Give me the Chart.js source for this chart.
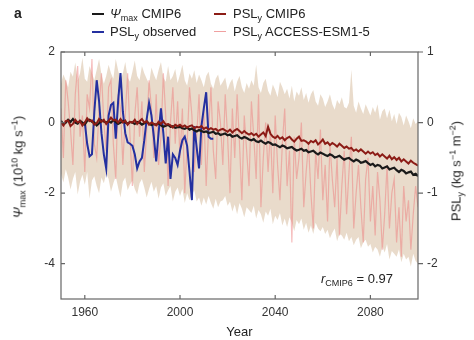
<!DOCTYPE html>
<html>
<head>
<meta charset="utf-8">
<script src="https://cdn.jsdelivr.net/npm/chart.js@4.4.1/dist/chart.umd.min.js"></script>
<style>
  body { margin: 0; background: #fff; }
  #wrap { position: relative; width: 474px; height: 340px; font-family: "Liberation Sans", Arial, sans-serif; color: #222; }
  canvas { position: absolute; left: 0; top: 0; }
  .lbl { position: absolute; font-size: 13px; line-height: 16px; white-space: nowrap; }
  .lbl sub { font-size: 9px; vertical-align: -3px; line-height: 0; }
  .lbl sup { font-size: 9px; vertical-align: 5px; line-height: 0; }
  .swatch { position: absolute; width: 12px; }
  .ytitle { position: absolute; font-size: 13px; white-space: nowrap; transform: translate(-50%, -50%) rotate(-90deg); }
  .ytitle sub { font-size: 9px; vertical-align: -3px; line-height: 0; }
  .ytitle sup { font-size: 9px; vertical-align: 5px; line-height: 0; }
</style>
</head>
<body>
<div id="wrap">
  <canvas id="chart" width="474" height="340"></canvas>

  <div class="lbl" style="left:14px;top:5px;font-weight:bold;font-size:14px;">a</div>

  <!-- legend -->
  <div class="swatch" style="left:92px;top:13px;height:2px;background:#1a1a1a;"></div>
  <div class="lbl" style="left:110px;top:6px;"><i>Ψ</i><sub>max</sub> CMIP6</div>
  <div class="swatch" style="left:214px;top:13px;height:2px;background:#8c1c16;"></div>
  <div class="lbl" style="left:233px;top:6px;">PSL<sub>y</sub> CMIP6</div>
  <div class="swatch" style="left:92px;top:31px;height:2px;background:#2430a0;"></div>
  <div class="lbl" style="left:110px;top:24px;">PSL<sub>y</sub> observed</div>
  <div class="swatch" style="left:214px;top:31px;height:1px;background:#f0a0a0;"></div>
  <div class="lbl" style="left:233px;top:24px;">PSL<sub>y</sub> ACCESS-ESM1-5</div>

  <!-- axis titles -->
  <div class="ytitle" style="left:18px;top:167px;"><i>Ψ</i><sub>max</sub> (10<sup>10</sup> kg s<sup>−1</sup>)</div>
  <div class="ytitle" style="left:456px;top:171px;">PSL<sub>y</sub> (kg s<sup>−1</sup> m<sup>−2</sup>)</div>

  <div class="lbl" style="left:321px;top:271px;"><i>r</i><sub>CMIP6</sub> = 0.97</div>
</div>

<script>
// ----- data -----
const startYear = 1950;
const endYear = 2100;

const xTicks = [1960, 2000, 2040, 2080];
const leftTicks = [-4, -2, 0, 2];
const rightTicks = [-2, -1, 0, 1];

// Psi_max CMIP6 mean (10^10 kg s-1), 1950-2100
const psiCmip6 = [
  0.05,-0.05,0.0,0.08,0.02,0.1,0.0,-0.03,0.05,0.0,
  -0.05,0.05,0.08,0.02,0.0,-0.08,-0.02,0.06,0.03,0.0,
  0.04,0.0,0.07,0.02,-0.04,0.0,0.05,0.0,-0.03,0.02,
  0.0,-0.04,0.02,0.0,-0.06,-0.02,0.03,-0.03,-0.07,-0.04,
  -0.06,-0.02,-0.08,-0.12,-0.09,-0.06,-0.12,-0.1,-0.15,-0.13,
  -0.12,-0.16,-0.18,-0.14,-0.2,-0.17,-0.22,-0.25,-0.21,-0.24,
  -0.27,-0.25,-0.3,-0.28,-0.26,-0.32,-0.3,-0.35,-0.33,-0.31,
  -0.36,-0.34,-0.4,-0.38,-0.36,-0.42,-0.45,-0.41,-0.44,-0.48,
  -0.5,-0.47,-0.53,-0.55,-0.51,-0.56,-0.6,-0.55,-0.58,-0.63,
  -0.62,-0.66,-0.7,-0.65,-0.68,-0.73,-0.71,-0.69,-0.75,-0.79,
  -0.77,-0.74,-0.8,-0.78,-0.84,-0.82,-0.8,-0.86,-0.9,-0.85,
  -0.88,-0.92,-0.95,-0.9,-0.93,-0.99,-0.97,-0.94,-1.0,-1.05,
  -1.02,-1.0,-1.06,-1.1,-1.05,-1.08,-1.14,-1.12,-1.09,-1.15,
  -1.2,-1.17,-1.24,-1.2,-1.22,-1.3,-1.27,-1.24,-1.33,-1.3,
  -1.28,-1.35,-1.4,-1.34,-1.37,-1.44,-1.41,-1.39,-1.48,-1.45,
  -1.52
];

// PSL_y CMIP6 mean (kg s-1 m-2), 1950-2100
const pslCmip6 = [
  0.0,-0.04,0.02,0.03,-0.05,-0.02,0.04,0.0,0.02,-0.04,
  0.0,0.06,0.02,0.03,-0.03,-0.01,0.05,0.01,0.04,-0.02,
  0.02,0.07,0.03,0.04,0.0,0.05,0.0,0.03,-0.03,0.01,
  0.0,0.04,-0.02,0.02,0.05,0.0,0.02,-0.03,0.0,-0.02,
  -0.04,0.01,-0.02,0.02,-0.03,-0.02,-0.04,-0.07,-0.03,-0.05,
  -0.03,-0.06,-0.04,-0.07,-0.05,-0.04,-0.08,-0.06,-0.07,-0.05,
  -0.09,-0.07,-0.1,-0.08,-0.1,-0.09,-0.12,-0.1,-0.09,-0.11,
  -0.13,-0.1,-0.14,-0.11,-0.09,-0.12,-0.15,-0.12,-0.15,-0.17,
  -0.15,-0.18,-0.16,-0.2,-0.17,-0.14,-0.19,-0.06,-0.16,-0.2,
  -0.22,-0.19,-0.23,-0.21,-0.25,-0.22,-0.2,-0.24,-0.27,-0.23,
  -0.2,-0.26,-0.25,-0.27,-0.3,-0.26,-0.28,-0.25,-0.31,-0.28,
  -0.24,-0.3,-0.28,-0.32,-0.29,-0.31,-0.34,-0.3,-0.33,-0.36,
  -0.34,-0.37,-0.36,-0.4,-0.38,-0.41,-0.38,-0.41,-0.44,-0.41,
  -0.44,-0.42,-0.46,-0.44,-0.48,-0.45,-0.48,-0.51,-0.47,-0.52,
  -0.49,-0.53,-0.5,-0.55,-0.52,-0.55,-0.58,-0.54,-0.57,-0.59,
  -0.61
];

// PSL_y ACCESS-ESM1-5 single model, 1950-2100
const pslAccess = [
  0.2,-0.5,0.6,0.3,-0.1,-0.6,0.4,0.8,-0.2,0.1,
  -0.7,0.4,0.2,0.9,-0.3,-0.5,0.2,0.7,0.0,-0.4,
  0.5,0.6,-0.3,-0.8,0.4,0.2,-0.6,0.1,0.7,-0.2,
  -0.9,0.1,0.5,-0.2,0.3,-0.7,-0.1,0.6,0.2,-0.5,
  0.4,-0.6,-0.2,0.7,0.1,-0.9,0.0,0.5,-0.3,0.3,
  -0.5,0.2,-1.0,-0.3,0.5,0.1,-0.7,-0.2,0.4,-0.6,
  0.2,-0.9,-0.1,0.5,-0.4,-0.8,0.3,0.0,-0.6,0.4,
  -0.2,-1.0,0.2,-0.5,0.4,-0.3,-1.1,0.1,-0.4,-0.9,
  0.3,-0.2,-0.8,0.4,-1.2,-0.5,0.0,-0.7,-0.1,-1.0,
  0.1,-0.6,-1.1,-0.3,0.2,-0.9,-0.4,-1.7,-0.2,-0.8,
  -0.5,0.0,-1.2,-0.7,-0.3,-1.0,-1.5,-0.4,-0.8,-0.1,
  -1.1,-0.6,-1.4,-0.3,-0.8,-1.2,-0.5,-1.6,-0.9,-0.4,
  -1.3,-0.7,-0.2,-1.5,-1.0,-0.6,-1.2,-1.7,-0.8,-0.5,
  -1.4,-0.9,-1.6,-0.7,-1.1,-1.8,-1.3,-0.6,-1.5,-1.0,
  -0.8,-1.7,-1.2,-1.9,-0.9,-1.4,-1.1,-1.8,-1.3,-0.9,
  -1.2
];

// CMIP6 spread (PSL_y units), 1950-2100
const spreadUpper = [
  0.55,0.68,0.6,0.5,0.72,0.65,0.85,0.6,0.7,0.92,
  0.62,0.58,0.8,0.7,0.6,0.75,0.9,0.68,0.55,0.66,
  0.82,0.7,0.62,0.9,0.74,0.6,0.7,0.86,0.64,0.58,
  0.72,0.88,0.66,0.6,0.8,0.7,0.62,0.55,0.78,0.68,
  0.6,0.74,0.86,0.64,0.58,0.8,0.6,0.66,0.76,0.56,
  0.68,0.82,0.6,0.52,0.7,0.62,0.74,0.56,0.68,0.6,
  0.5,0.66,0.72,0.55,0.48,0.62,0.68,0.52,0.58,0.64,
  0.46,0.56,0.62,0.44,0.58,0.66,0.5,0.42,0.56,0.48,
  0.6,0.52,0.82,0.5,0.42,0.56,0.62,0.45,0.38,0.54,
  0.46,0.36,0.58,0.5,0.4,0.48,0.34,0.52,0.3,0.44,
  0.38,0.5,0.32,0.42,0.28,0.4,0.46,0.3,0.24,0.4,
  0.34,0.22,0.3,0.4,0.26,0.18,0.32,0.26,0.36,0.22,
  0.2,0.28,0.75,0.24,0.14,0.3,0.2,0.12,0.26,0.18,
  0.1,0.22,0.14,0.26,0.04,0.16,0.2,0.06,0.18,0.02,
  0.12,-0.02,0.14,0.08,-0.04,0.1,0.02,-0.08,0.06,-0.02,
  0.02
];
const spreadLower = [
  -0.72,-0.85,-0.66,-0.78,-0.95,-0.8,-0.7,-1.02,-0.84,-0.74,
  -0.88,-0.7,-1.08,-0.82,-0.76,-0.9,-1.0,-0.78,-0.86,-0.72,
  -0.8,-0.98,-0.86,-0.76,-0.92,-1.06,-0.84,-0.78,-0.96,-0.88,
  -0.82,-0.94,-1.02,-0.86,-0.8,-0.92,-1.06,-0.94,-0.84,-0.98,
  -0.9,-1.08,-0.92,-0.86,-1.04,-0.96,-0.9,-1.12,-0.98,-0.92,
  -1.04,-0.94,-1.14,-1.0,-1.1,-1.02,-0.96,-1.12,-1.06,-1.18,
  -1.06,-1.16,-1.04,-1.14,-1.22,-1.08,-1.2,-1.12,-1.1,-1.04,
  -1.18,-1.12,-1.26,-1.16,-1.3,-1.14,-1.22,-1.34,-1.2,-1.24,
  -1.28,-1.18,-1.36,-1.24,-1.3,-1.42,-1.26,-1.32,-1.22,-1.44,
  -1.32,-1.38,-1.28,-1.46,-1.36,-1.48,-1.34,-1.42,-1.54,-1.38,
  -1.44,-1.36,-1.52,-1.42,-1.56,-1.46,-1.58,-1.42,-1.5,-1.54,
  -1.48,-1.58,-1.52,-1.64,-1.56,-1.5,-1.68,-1.58,-1.6,-1.66,
  -1.56,-1.68,-1.62,-1.74,-1.66,-1.62,-1.78,-1.7,-1.66,-1.76,
  -1.72,-1.84,-1.76,-1.8,-1.9,-1.76,-1.84,-1.72,-1.94,-1.82,
  -1.86,-1.9,-1.8,-1.98,-1.86,-1.94,-1.9,-2.04,-1.86,-1.96,
  -2.0
];

// PSL_y observed, 1959-2014
const obsStart = 1959;
const pslObserved = [
  -0.03,0,-0.3,-0.48,-0.45,0.15,0.6,0.3,-0.15,-0.45,
  -0.65,0.1,0.25,0.28,-0.23,0.3,0.7,0.15,-0.15,-0.28,
  -0.3,-0.33,-0.45,-0.65,-0.55,-0.5,-0.25,0.05,0.28,0.1,
  -0.2,-0.55,-0.15,0.2,-0.15,-0.58,-0.2,-0.8,-0.45,-0.5,
  -0.6,-0.4,-0.25,-0.2,-0.33,-0.7,-1.1,-0.05,-0.35,-0.65,
  -0.05,0.2,0.43,-0.2,-0.23,-0.23
];

const toPoints = (vals, from) => vals.map((v, i) => ({ x: from + i, y: v }));

// frame + tick marks (left/bottom/top inward, right outward)
const framePlugin = {
  id: 'frame',
  afterDraw(chart) {
    const { ctx, chartArea: a, scales } = chart;
    ctx.save();
    ctx.strokeStyle = '#666';
    ctx.lineWidth = 1.2;
    ctx.strokeRect(a.left, a.top, a.right - a.left, a.bottom - a.top);
    ctx.beginPath();
    xTicks.forEach(t => {
      const x = scales.x.getPixelForValue(t);
      ctx.moveTo(x, a.bottom); ctx.lineTo(x, a.bottom - 4);
      ctx.moveTo(x, a.top); ctx.lineTo(x, a.top + 4);
    });
    leftTicks.forEach(t => {
      const y = scales.y.getPixelForValue(t);
      ctx.moveTo(a.left, y); ctx.lineTo(a.left + 4, y);
    });
    rightTicks.forEach(t => {
      const y = scales.y2.getPixelForValue(t);
      ctx.moveTo(a.right, y); ctx.lineTo(a.right + 5, y);
    });
    ctx.stroke();
    ctx.restore();
  }
};

const tickFont = { family: '"Liberation Sans", Arial, sans-serif', size: 12 };

new Chart(document.getElementById('chart'), {
  type: 'line',
  data: {
    datasets: [
      {
        label: 'spread upper',
        data: toPoints(spreadUpper, startYear),
        yAxisID: 'y2',
        borderWidth: 0,
        pointRadius: 0,
        backgroundColor: 'rgba(200,165,125,0.4)',
        fill: '+1',
        order: 6
      },
      {
        label: 'spread lower',
        data: toPoints(spreadLower, startYear),
        yAxisID: 'y2',
        borderWidth: 0,
        pointRadius: 0,
        fill: false,
        order: 7
      },
      {
        label: 'PSLy ACCESS-ESM1-5',
        data: toPoints(pslAccess, startYear),
        yAxisID: 'y2',
        borderColor: 'rgba(238,125,125,0.5)',
        borderWidth: 1.2,
        pointRadius: 0,
        fill: false,
        order: 5
      },
      {
        label: 'PSLy observed',
        data: toPoints(pslObserved, obsStart),
        yAxisID: 'y2',
        borderColor: '#2430a0',
        borderWidth: 2,
        pointRadius: 0,
        fill: false,
        order: 3
      },
      {
        label: 'Psi max CMIP6',
        data: toPoints(psiCmip6, startYear),
        yAxisID: 'y',
        borderColor: '#1a1a1a',
        borderWidth: 2.2,
        pointRadius: 0,
        fill: false,
        order: 2
      },
      {
        label: 'PSLy CMIP6',
        data: toPoints(pslCmip6, startYear),
        yAxisID: 'y2',
        borderColor: '#8c1c16',
        borderWidth: 2,
        pointRadius: 0,
        fill: false,
        order: 1
      }
    ]
  },
  options: {
    responsive: false,
    animation: false,
    layout: { padding: { top: 52 } },
    plugins: { legend: { display: false }, tooltip: { enabled: false } },
    scales: {
      x: {
        type: 'linear',
        min: startYear,
        max: endYear,
        afterFit: s => { s.height = 41; },
        afterBuildTicks: s => { s.ticks = xTicks.map(v => ({ value: v })); },
        grid: { display: false, drawTicks: false },
        border: { display: false },
        ticks: { font: tickFont, color: '#333', padding: 6, maxRotation: 0, callback: v => String(v) },
        title: { display: true, text: 'Year', font: { family: tickFont.family, size: 13 }, color: '#222', padding: { top: 0, bottom: 0 } }
      },
      y: {
        position: 'left',
        min: -5,
        max: 2,
        afterFit: s => { s.width = 61; },
        afterBuildTicks: s => { s.ticks = leftTicks.map(v => ({ value: v })); },
        grid: { display: false, drawTicks: false },
        border: { display: false },
        ticks: { font: tickFont, color: '#333', padding: 6 }
      },
      y2: {
        position: 'right',
        min: -2.5,
        max: 1,
        afterFit: s => { s.width = 56; },
        afterBuildTicks: s => { s.ticks = rightTicks.map(v => ({ value: v })); },
        grid: { display: false, drawTicks: false },
        border: { display: false },
        ticks: { font: tickFont, color: '#333', padding: 9 }
      }
    }
  },
  plugins: [framePlugin]
});
</script>
</body>
</html>
